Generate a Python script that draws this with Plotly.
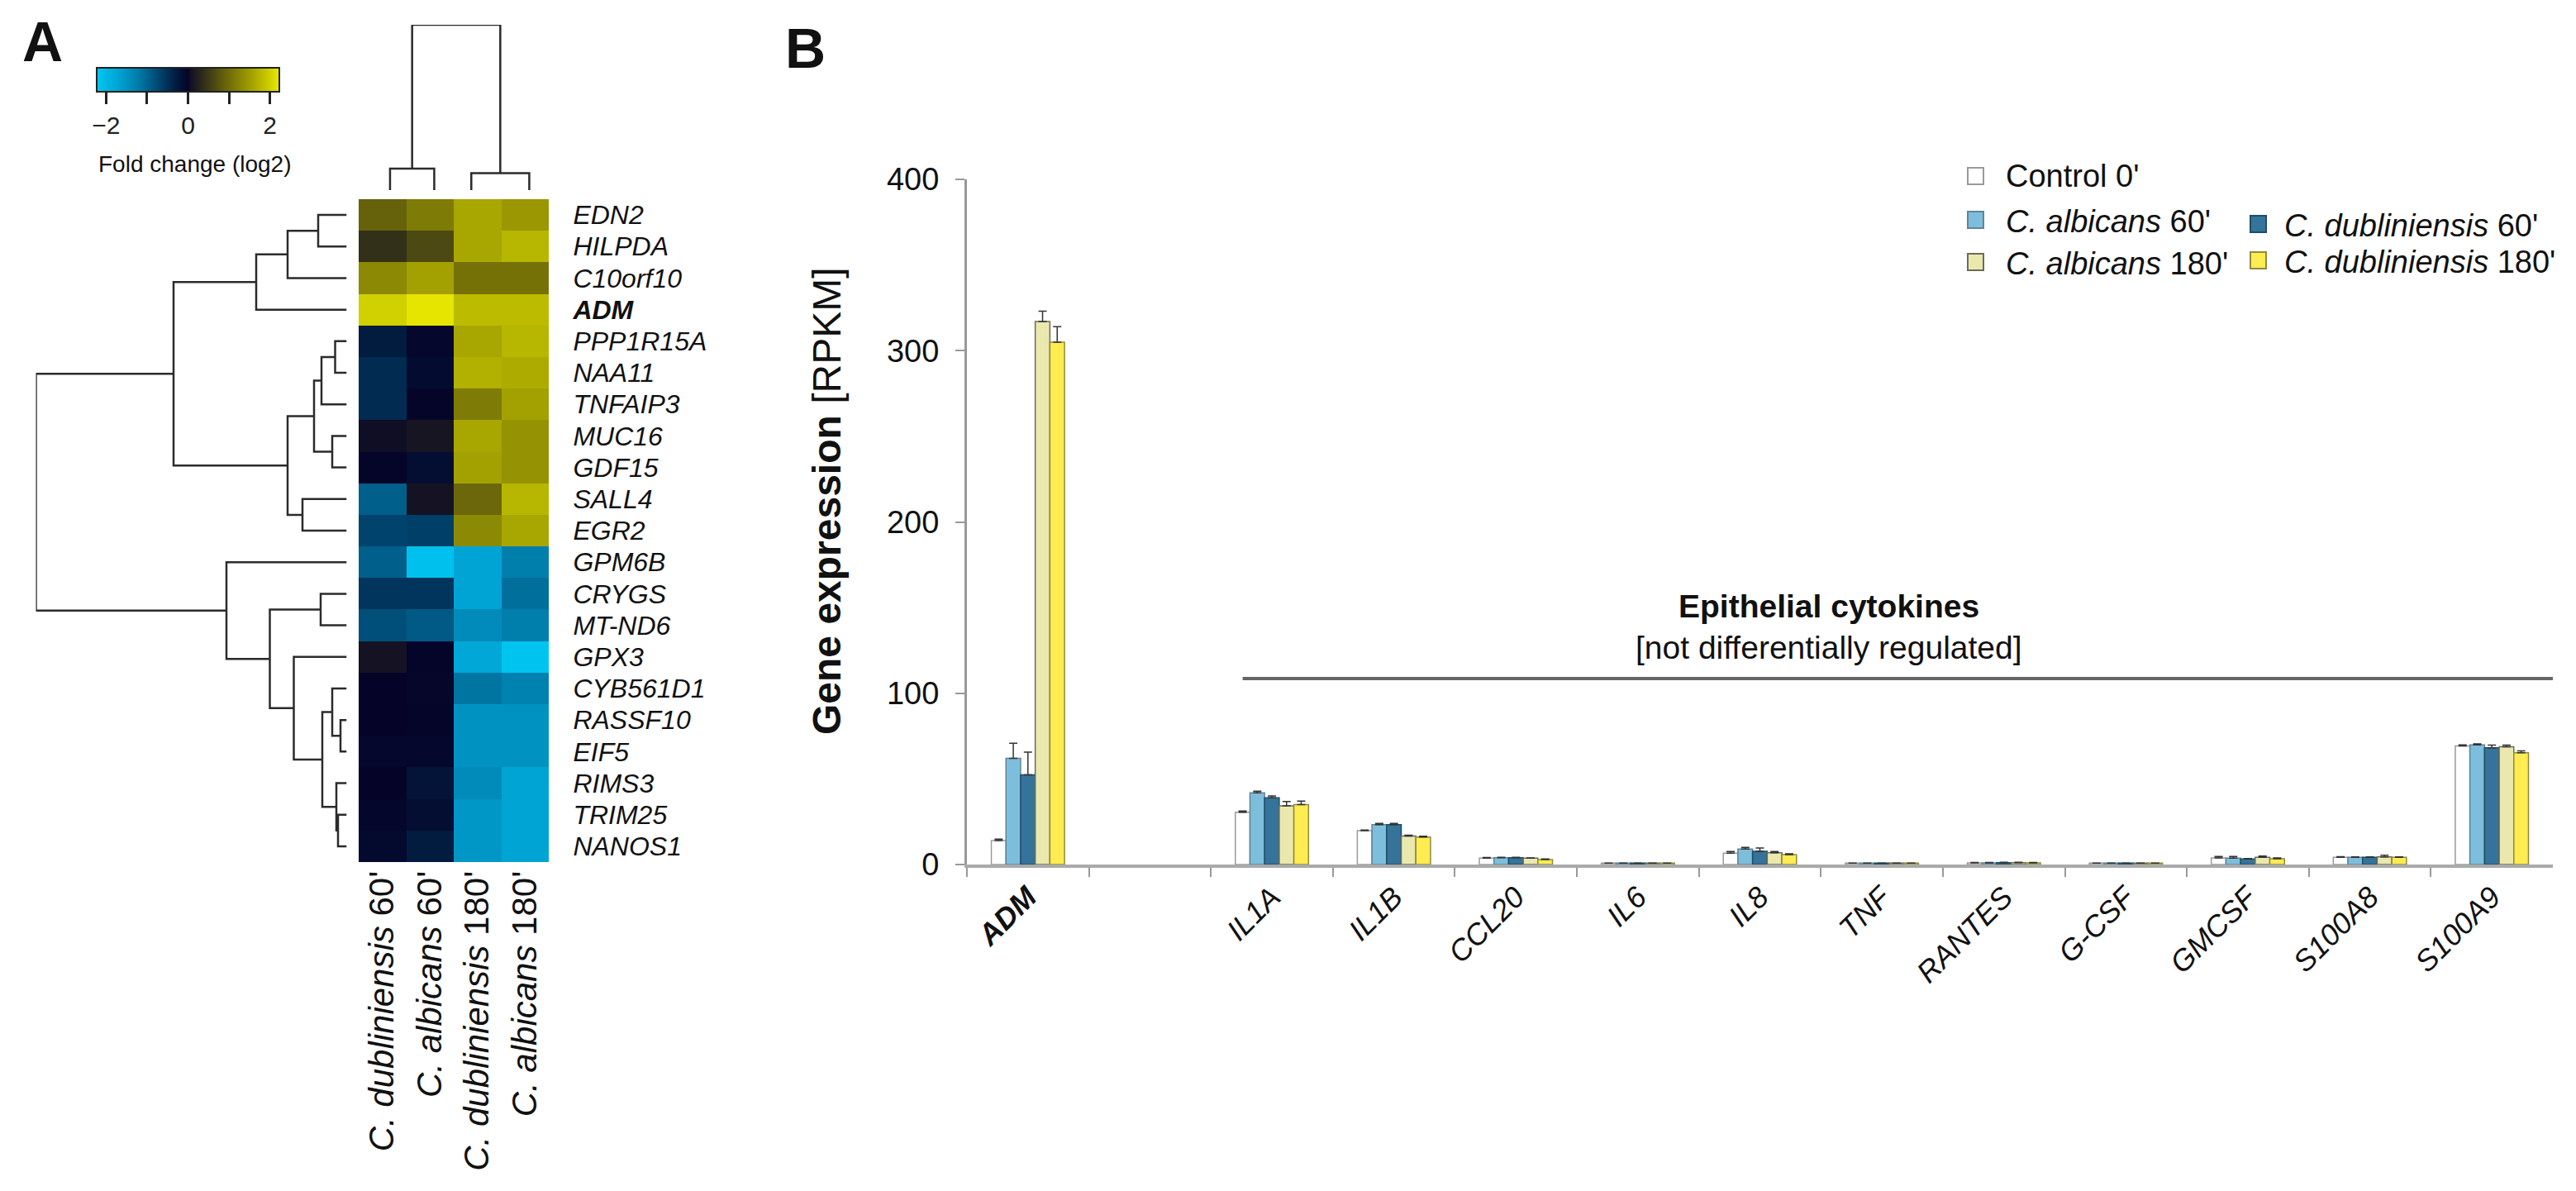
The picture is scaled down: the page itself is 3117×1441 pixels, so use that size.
import plotly.graph_objects as go

W, H = 3117, 1441
FONT = "Liberation Sans"

# ---- panel A data
genes = ["EDN2", "HILPDA", "C10orf10", "ADM", "PPP1R15A", "NAA11", "TNFAIP3", "MUC16", "GDF15",
         "SALL4", "EGR2", "GPM6B", "CRYGS", "MT-ND6", "GPX3", "CYB561D1", "RASSF10", "EIF5",
         "RIMS3", "TRIM25", "NANOS1"]
conditions = ["C. dubliniensis 60'", "C. albicans 60'", "C. dubliniensis 180'", "C. albicans 180'"]
dub60_fc = [0.9, 0.4, 1.3, 2.0, -0.3, -0.45, -0.45, 0.05, -0.02, -0.95, -0.7, -0.95, -0.55, -0.8, 0.1,
            0.0, 0.0, -0.05, 0.0, -0.04, -0.07]
alb60_fc = [1.15, 0.65, 1.55, 2.2, -0.05, -0.1, -0.02, 0.12, -0.12, 0.1, -0.65, -2.15, -0.55, -0.9, -0.02,
            -0.03, -0.02, -0.05, -0.2, -0.12, -0.3]
dub180_fc = [1.6, 1.6, 1.05, 1.8, 1.6, 1.7, 1.15, 1.6, 1.55, 0.95, 1.3, -1.7, -1.7, -1.4, -1.75,
             -1.15, -1.5, -1.5, -1.4, -1.55, -1.55]
alb180_fc = [1.45, 1.75, 1.05, 1.8, 1.75, 1.65, 1.55, 1.4, 1.4, 1.75, 1.6, -1.25, -1.1, -1.25, -2.2,
             -1.3, -1.5, -1.5, -1.7, -1.7, -1.7]

# dendrograms, hclust style: negative = leaf, positive = earlier merge, then height
row_merges = [(-1, -2, 34.5), (1, -3, 71.5), (2, -4, 109.5), (-5, -6, 14), (4, -7, 30.5), (-8, -9, 17.5),
              (5, 6, 39.5), (-10, -11, 53.5), (7, 8, 71.5), (3, 9, 209.5), (-13, -14, 31.5), (-17, -18, 7.5),
              (-16, 12, 17.5), (-20, -21, 10.5), (-19, 14, 12.5), (13, 15, 29.5), (-15, 16, 64), (11, 17, 93),
              (-12, 18, 145.5), (10, 19, 376)]
col_merges = [(-1, -2, 26), (-3, -4, 20.4), (1, 2, 200)]
col_leaves = [0.16, 1.09, 1.87, 3.09]

# ---- panel B data
cytokines = ["ADM", " ", "IL1A", "IL1B", "CCL20", "IL6", "IL8", "TNF", "RANTES", "G-CSF", "GMCSF", "S100A8", "S100A9"]
control_0 = [14, None, 30.5, 19.8, 3.7, 0.8, 6.6, 0.8, 1.0, 0.8, 3.9, 4.2, 69.3]
alb_60 = [62, None, 41.8, 23.3, 4.0, 0.8, 9.0, 0.8, 1.0, 0.8, 3.7, 4.2, 69.8]
dub_60 = [52.4, None, 39, 23.3, 4.0, 0.8, 7.7, 0.8, 1.1, 0.8, 3.2, 4.2, 68.2]
alb_180 = [317, None, 34.3, 16.6, 3.7, 0.8, 6.9, 0.8, 1.1, 0.8, 4.2, 4.5, 68.8]
dub_180 = [305, None, 35, 16, 2.9, 0.8, 5.8, 0.8, 1.0, 0.8, 3.4, 4.2, 65.3]
control_err = [0.8, None, 0.8, 0.3, 0.4, 0.1, 1.0, 0.1, 0.2, 0.1, 0.8, 0.4, 0.5]
alb_60_err = [8.8, None, 1.0, 0.7, 0.2, 0.1, 1.0, 0.1, 0.2, 0.1, 1.0, 0.3, 0.7]
dub_60_err = [13.2, None, 1.0, 0.7, 0.2, 0.1, 2.0, 0.1, 0.2, 0.1, 0.3, 0.3, 1.5]
alb_180_err = [6, None, 2.5, 0.5, 0.2, 0.1, 0.7, 0.1, 0.2, 0.1, 0.8, 0.9, 0.9]
dub_180_err = [9, None, 2, 0.5, 0.3, 0.1, 0.5, 0.1, 0.2, 0.1, 0.4, 0.3, 1.0]
y_ticks = [0, 100, 200, 300, 400]

series = [
    ("Control 0'", control_0, control_err, "#ffffff", "#9a9a9a"),
    ("C. albicans 60'", alb_60, alb_60_err, "#7dbedc", "#5f8598"),
    ("C. dubliniensis 60'", dub_60, dub_60_err, "#35739a", "#1f4c66"),
    ("C. albicans 180'", alb_180, alb_180_err, "#ebe8ae", "#6b6b58"),
    ("C. dubliniensis 180'", dub_180, dub_180_err, "#ffec50", "#8f8a40"),
]

colorscale_pts = [(-2.23, "rgb(0,198,242)"), (-1.7, "rgb(0,164,212)"), (-1.2, "rgb(0,122,168)"),
                  (-0.7, "rgb(0,68,110)"), (-0.3, "rgb(2,28,64)"), (0, "rgb(5,3,40)"), (0.05, "rgb(16,14,36)"),
                  (0.4, "rgb(51,48,26)"), (1.0, "rgb(112,108,8)"), (1.6, "rgb(168,166,0)"), (2.23, "rgb(232,232,0)")]


def fx(px):
    return px / W


def fy(px):
    return 1 - px / H


def dendro(merges, leaves):
    # returns (position, height) polyline with None breaks
    pos, hts, out_p, out_h = {}, {}, [], []
    for k, (a, b, h) in enumerate(merges, start=1):
        pa = leaves[-a - 1] if a < 0 else pos[a]
        pb = leaves[-b - 1] if b < 0 else pos[b]
        ha = 0 if a < 0 else hts[a]
        hb = 0 if b < 0 else hts[b]
        out_p += [pa, pa, pb, pb, None]
        out_h += [ha, h, h, hb, None]
        pos[k], hts[k] = (pa + pb) / 2, h
    return out_p, out_h


fig = go.Figure()

# bars
for name, vals, errs, fill, edge in series:
    fig.add_trace(go.Bar(
        x=cytokines, y=vals, name=name,
        marker=dict(color=fill, line=dict(color=edge, width=1.5)),
        error_y=dict(type="data", array=errs, arrayminus=[0] * len(errs), symmetric=False,
                     color="#333333", thickness=1.5, width=5),
        xaxis="x", yaxis="y",
    ))

# heatmap
norm = [((v + 2.23) / 4.46, c) for v, c in colorscale_pts]
z = [list(r) for r in zip(dub60_fc, alb60_fc, dub180_fc, alb180_fc)]
col_text = [c.rsplit(" ", 1) for c in conditions]
col_text = [f"<i>{a}</i> {b}" for a, b in col_text]
gene_text = [f"<b><i>{g}</i></b>" if g == "ADM" else f"<i>{g}</i>" for g in genes]
fig.add_trace(go.Heatmap(
    z=z, x=col_text, y=gene_text, zmin=-2.23, zmax=2.23, colorscale=norm, xaxis="x2", yaxis="y2",
    colorbar=dict(orientation="h", x=fx(117), xanchor="left", y=fy(82), yanchor="top",
                  len=221, lenmode="pixels", thickness=29, thicknessmode="pixels", xpad=0, ypad=0,
                  outlinewidth=2, outlinecolor="#222222", ticks="outside", ticklen=14, tickwidth=3,
                  tickcolor="#222222", tickvals=[-2, -1, 0, 1, 2], ticktext=["−2", "", "0", "", "2"],
                  tickfont=dict(family=FONT, size=30, color="#222222")),
))

# dendrograms
rp, rh = dendro(row_merges, list(range(len(genes))))
fig.add_trace(go.Scatter(x=rh, y=rp, mode="lines", line=dict(color="#2b2b2b", width=2.5),
                         xaxis="x3", yaxis="y3", cliponaxis=False, hoverinfo="skip", showlegend=False))
cp, ch = dendro(col_merges, col_leaves)
fig.add_trace(go.Scatter(x=cp, y=ch, mode="lines", line=dict(color="#2b2b2b", width=2.5),
                         xaxis="x4", yaxis="y4", cliponaxis=False, hoverinfo="skip", showlegend=False))

hidden = dict(visible=False, showgrid=False, zeroline=False, fixedrange=True)
fig.update_layout(
    width=W, height=H, margin=dict(l=0, r=0, t=0, b=0, autoexpand=False), paper_bgcolor="white", plot_bgcolor="white",
    font=dict(family=FONT, color="#111111"), showlegend=False,
    barmode="group", bargap=0.4, bargroupgap=0,
    xaxis=dict(domain=[fx(1170), fx(3089)], range=[-0.5, 12.5], type="category", categoryorder="array",
               categoryarray=cytokines, tickmode="array", tickvals=cytokines,
               ticktext=["<b><i>ADM</i></b>", " "] + [f"<i>{c}</i>" for c in cytokines[2:]],
               tickson="boundaries", ticks="outside", ticklen=11, tickwidth=2, tickcolor="#999999",
               showline=True, linecolor="#aaaaaa", linewidth=4, showgrid=False, zeroline=False,
               tickangle=-45, tickfont=dict(size=36), anchor="y"),
    yaxis=dict(domain=[fy(1046), fy(217)], range=[0, 400], tickvals=y_ticks, ticks="outside", ticklen=11,
               tickwidth=2, tickcolor="#999999", showline=True, linecolor="#999999", linewidth=3,
               showgrid=False, zeroline=False, tickfont=dict(size=38), ticklabelstandoff=12, anchor="x"),
    xaxis2=dict(domain=[fx(434), fx(664)], anchor="y2", side="bottom", tickangle=-90, ticks="outside",
                ticklen=1, tickcolor="rgba(0,0,0,0)", showgrid=False, zeroline=False, showline=False,
                tickfont=dict(size=42), ticklabelstandoff=-8),
    yaxis2=dict(domain=[fy(1043), fy(241)], anchor="x2", side="right", autorange="reversed", ticks="outside",
                ticklen=22, tickcolor="rgba(0,0,0,0)", showgrid=False, zeroline=False, showline=False,
                tickfont=dict(size=32), dtick=1),
    xaxis3=dict(domain=[fx(43.5), fx(419.5)], range=[376, 0], anchor="y3", **hidden),
    yaxis3=dict(domain=[fy(1043), fy(241)], range=[20.5, -0.5], anchor="x3", **hidden),
    xaxis4=dict(domain=[fx(434), fx(664)], range=[-0.5, 3.5], anchor="y4", **hidden),
    yaxis4=dict(domain=[fy(230), fy(30)], range=[0, 200], anchor="x4", **hidden),
)

# grey bar over the cytokines
fig.add_shape(type="line", xref="x", yref="y", x0=1.76, x1=12.5, y0=108.6, y1=108.6,
              line=dict(color="#666666", width=4))


def label(text, px, py, size, anchor="left", angle=0):
    fig.add_annotation(text=text, x=fx(px), y=fy(py), xref="paper", yref="paper", showarrow=False,
                       xanchor=anchor, yanchor="middle", textangle=angle, font=dict(size=size, color="#111111"))


label("<b>A</b>", 25, 50, 68)
label("<b>B</b>", 948, 58, 68)
label("Fold change (log2)", 117, 198, 28)
label("<b>Epithelial cytokines</b>", 2213, 733, 39, "center")
label("[not differentially regulated]", 2213, 783, 39, "center")
label("<b>Gene expression</b> [RPKM]", 1001, 606, 48, "center", -90)

# legend swatches, laid out by hand because plotly has no 2+3 column form
legend_rows = [(2381, 213, 2425, "Control 0'", 0), (2381, 266, 2425, "<i>C. albicans</i> 60'", 1),
               (2723, 271, 2762, "<i>C. dubliniensis</i> 60'", 2), (2381, 317, 2425, "<i>C. albicans</i> 180'", 3),
               (2723, 315, 2762, "<i>C. dubliniensis</i> 180'", 4)]
for sx, sy, tx, text, idx in legend_rows:
    fig.add_shape(type="rect", xref="paper", yref="paper", x0=fx(sx), x1=fx(sx + 19), y0=fy(sy + 10), y1=fy(sy - 10),
                  fillcolor=series[idx][3], line=dict(color=series[idx][4], width=2))
    label(text, tx, sy + (2 if idx != 0 else 0), 38)

fig.write_html("out.html", config={"displayModeBar": False}, post_script="document.body.style.margin='0';")
